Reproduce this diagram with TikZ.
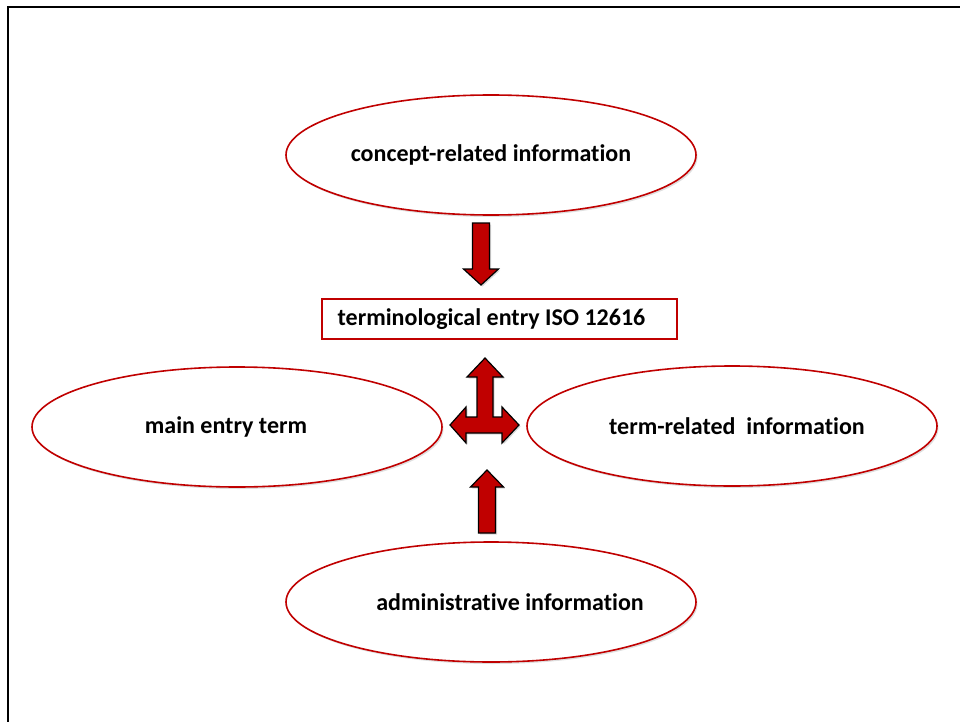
\documentclass[tikz,border=0pt]{standalone}
\usepackage{fontspec}
\setmainfont[Ligatures=NoCommon]{Carlito}
\usepackage{tikz}
\usetikzlibrary{shapes.geometric,shadows}
\definecolor{infored}{HTML}{C00000}

\tikzset{
  infobox/.style={ellipse, draw=infored, line width=1.6pt, fill=white,
    minimum width=410pt, minimum height=120pt,
    font=\bfseries\fontsize{24}{28}\selectfont,
    drop shadow={opacity=0.25, shadow xshift=1.5pt, shadow yshift=-2pt}},
  entrybox/.style={rectangle, draw=infored, line width=1.4pt, fill=white,
    minimum width=355pt, minimum height=40pt,
    font=\bfseries\fontsize{24}{28}\selectfont},
  blockarrow/.style={draw=black, line width=1.2pt, fill=infored, line join=miter,
    drop shadow={opacity=0.3, shadow xshift=1.5pt, shadow yshift=-1.5pt}}
}

\begin{document}
\begin{tikzpicture}[x=1pt, y=-1pt]
    \useasboundingbox (0,0) rectangle (960,722);
    % frame
    \draw[line width=2pt] (8,722) -- (8,7) -- (960,7);

    \node[infobox] (concept) at (491,155) {concept-related information};
    \node[entrybox] (entry) at (499.5,319) {\makebox[0pt]{\hspace*{-16pt}terminological entry ISO 12616}};
    \node[infobox] (mainterm) at (237,427) {\makebox[0pt]{\hspace*{-22pt}main entry term}};
    \node[infobox] (termrel) at (732,426) {\makebox[0pt]{\hspace*{10pt}term-related\ \ information}};
    \node[infobox] (admin) at (491,602) {\makebox[0pt]{\hspace*{38pt}administrative information}};

    \coordinate (down) at (481,223);
    \coordinate (hub) at (485,425);
    \coordinate (up) at (487,533);

    % arrows
    \begin{scope}[shift={(down)}]
        \draw[blockarrow] (-8.5,0) -- (8.5,0) -- (8.5,46) -- (17.5,46) -- (0,62)
            -- (-17.5,46) -- (-8.5,46) -- cycle;
    \end{scope}
    \begin{scope}[shift={(hub)}]
        \draw[blockarrow] (0,-67) -- (18,-48) -- (8,-48) -- (8,-8) -- (17,-8) -- (17,-18)
            -- (34,0) -- (17,18) -- (17,8) -- (-19,8) -- (-19,18) -- (-35,0)
            -- (-19,-18) -- (-19,-8) -- (-8,-8) -- (-8,-48) -- (-18,-48) -- cycle;
    \end{scope}
    \begin{scope}[shift={(up)}]
        \draw[blockarrow] (-8.5,0) -- (8.5,0) -- (8.5,-46) -- (16.5,-46) -- (0,-63)
            -- (-16.5,-46) -- (-8.5,-46) -- cycle;
    \end{scope}
\end{tikzpicture}
\end{document}
